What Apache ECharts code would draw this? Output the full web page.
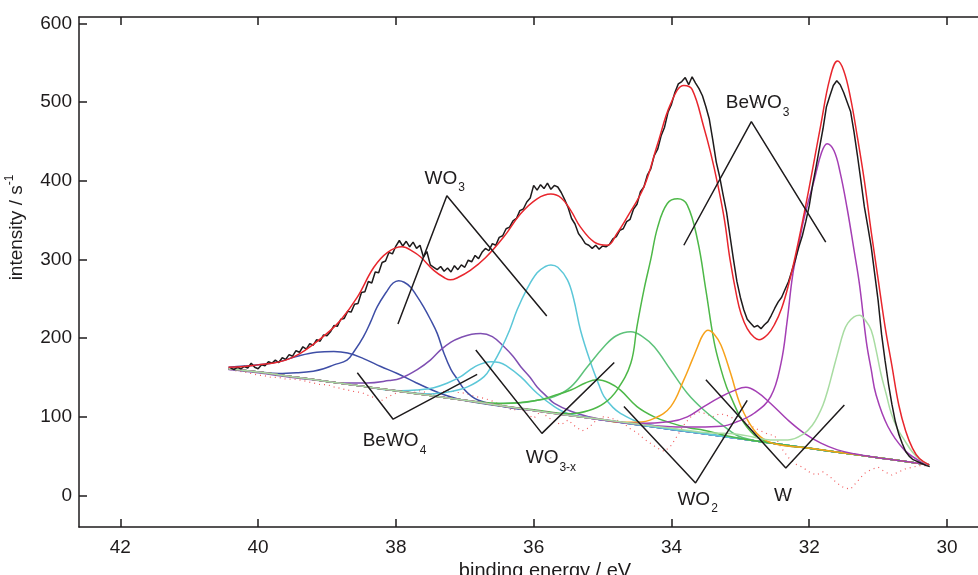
<!DOCTYPE html>
<html>
<head>
<meta charset="utf-8">
<script src="https://cdn.jsdelivr.net/npm/echarts@6/dist/echarts.min.js"></script>
<style>
html,body{margin:0;padding:0;background:#fff;}
#chart{width:978px;height:575px;}
</style>
</head>
<body>
<div id="chart"></div>
<script>
// ---------- data (binding energy eV, intensity s^-1) ----------
const energyTicks = [30, 32, 34, 36, 38, 40, 42];
const intensityTicks = [0, 100, 200, 300, 400, 500, 600];

const measured = [
[40.40,162],[40.35,160],[40.30,163],[40.25,161],[40.20,164],[40.15,162],[40.10,168],[40.05,163],[40.00,161],[39.95,166],[39.90,165],[39.85,170],[39.80,168],[39.75,172],[39.70,169],[39.65,175],[39.60,173],[39.55,179],[39.50,177],[39.45,184],[39.40,182],[39.35,189],[39.30,186],[39.25,193],[39.20,191],[39.15,198],[39.10,196],[39.05,204],[39.00,203],
[38.95,208],[38.90,216],[38.85,215],[38.80,224],[38.75,225],[38.70,234],[38.65,233],[38.60,243],[38.55,244],[38.50,258],[38.45,259],[38.40,272],[38.35,270],[38.30,284],[38.25,283],[38.20,296],[38.15,298],[38.10,309],[38.05,307],[38.00,317],
[37.95,324],[37.90,317],[37.85,323],[37.80,316],[37.75,322],[37.70,314],[37.65,318],[37.60,303],[37.55,310],[37.50,293],[37.45,290],[37.40,287],[37.35,291],[37.30,285],[37.25,289],[37.20,284],[37.15,292],[37.10,287],[37.05,293],[37.00,290],
[36.95,299],[36.90,297],[36.85,305],[36.80,301],[36.75,309],[36.70,314],[36.65,311],[36.60,320],[36.55,318],[36.50,328],[36.45,330],[36.40,339],[36.35,341],[36.30,349],[36.25,352],[36.20,362],[36.15,364],[36.10,373],[36.05,378],[36.00,394],
[35.95,388],[35.90,395],[35.85,390],[35.80,397],[35.75,389],[35.70,394],[35.65,392],[35.60,385],[35.55,376],[35.50,366],[35.45,352],[35.40,345],[35.35,333],[35.30,327],[35.25,320],[35.20,318],[35.15,314],[35.10,318],[35.05,313],[35.00,317],
[34.95,316],[34.90,319],[34.85,326],[34.80,329],[34.75,337],[34.70,339],[34.65,348],[34.60,351],[34.55,364],[34.50,370],[34.45,386],[34.40,392],[34.35,407],[34.30,415],[34.25,432],[34.20,440],[34.15,457],[34.10,468],[34.05,487],[34.00,497],
[33.95,512],[33.90,523],[33.85,526],[33.80,531],[33.75,522],[33.70,532],[33.65,524],[33.60,517],[33.55,508],[33.50,494],[33.45,478],[33.40,452],[33.35,424],[33.30,405],[33.25,382],[33.20,360],[33.15,330],[33.10,300],[33.05,272],[33.00,252],
[32.95,236],[32.90,224],[32.85,219],[32.80,214],[32.75,216],[32.70,212],[32.65,217],[32.60,221],[32.55,229],[32.50,238],[32.45,246],[32.40,252],[32.35,262],[32.30,272],[32.25,286],[32.20,300],[32.15,316],[32.10,330],[32.05,348],[32.00,368],
[31.95,395],[31.90,418],[31.85,442],[31.80,466],[31.75,494],[31.70,508],[31.65,521],[31.60,527],[31.55,522],[31.50,512],[31.45,500],[31.40,488],[31.35,462],[31.30,432],[31.25,400],[31.20,367],[31.15,342],[31.10,316],[31.05,282],[31.00,248],
[30.95,205],[30.90,172],[30.85,142],[30.80,116],[30.75,94],[30.70,78],[30.65,66],[30.60,56],[30.55,50],[30.50,46],[30.45,44],[30.40,42],[30.35,40],[30.30,38],[30.25,37]
];

const fitEnvelope = [
[40.43,163],[40.2,164],[40.0,166],[39.8,168],[39.6,172],[39.4,180],[39.2,192],[39.0,206],[38.8,223],[38.56,252],[38.32,290],[38.12,309],[37.91,316],[37.75,310],[37.64,303],[37.45,286],[37.3,277],[37.21,274],[37.1,277],[36.92,286],[36.7,302],[36.43,329],[36.19,358],[35.95,377],[35.75,383],[35.6,378],[35.46,362],[35.32,341],[35.12,322],[34.93,318],[34.79,333],[34.64,354],[34.4,392],[34.2,447],[34.01,498],[33.82,521],[33.7,516],[33.53,468],[33.43,435],[33.33,396],[33.23,350],[33.15,300],[33.05,252],[32.99,231],[32.9,212],[32.8,201],[32.73,198],[32.6,205],[32.5,218],[32.4,238],[32.3,268],[32.2,305],[32.07,360],[31.95,415],[31.83,472],[31.7,530],[31.59,552],[31.5,540],[31.4,505],[31.3,455],[31.2,400],[31.1,335],[31.0,275],[30.9,215],[30.8,165],[30.7,115],[30.6,82],[30.5,60],[30.4,47],[30.26,39]
];

const beWO4Broad = [[40.43,163],[40.0,166],[39.7,170],[39.43,177],[39.15,182],[38.9,183],[38.7,181],[38.47,174],[38.22,164],[37.98,155],[37.7,143],[37.5,135],[37.3,128],[37.11,123],[36.9,119],[36.6,115],[36.0,108],[35.5,102],[35,96],[34.5,90],[34,84],[33.5,78],[33,72],[32.5,66],[32,60],[31.5,54],[31,48],[30.5,42],[30.26,39]];
const beWO4Main = [[40.43,161],[40.0,157],[39.7,155],[39.43,156],[39.2,158],[39.05,161],[38.9,166],[38.71,172],[38.6,184],[38.47,202],[38.37,220],[38.27,240],[38.12,261],[38.04,270],[37.96,273],[37.88,271],[37.79,265],[37.7,254],[37.6,240],[37.5,224],[37.4,206],[37.3,180],[37.2,160],[37.11,148],[37.01,135],[36.9,126],[36.8,121],[36.6,116],[36.3,111],[36,108],[35.5,102],[35,96],[34.5,90],[34,84],[33.5,78],[33,72],[32.5,66],[32,60],[31.5,54],[31,48],[30.5,42],[30.26,39]];
const wo3A = [[40.43,160],[40,156],[39.5,150],[39,145],[38.8,143],[38.42,143],[38.1,146],[37.93,149],[37.69,160],[37.5,172],[37.35,185],[37.2,195],[37.05,201],[36.9,205],[36.77,206],[36.6,202],[36.43,189],[36.3,177],[36.19,164],[36.05,150],[35.95,138],[35.8,125],[35.7,117],[35.46,107],[35.2,100],[35,96.5],[34.5,90],[34,84],[33.5,78],[33,72],[32.5,66],[32,60],[31.5,54],[31,48],[30.5,42],[30.26,39]];
const wo3xA = [[40.43,161],[40,157],[39.5,151],[39,145],[38.5,139],[38.2,135],[37.93,133],[37.7,134],[37.45,137],[37.25,143],[37.06,151],[36.92,160],[36.8,166],[36.62,170],[36.5,169],[36.4,165],[36.19,151],[35.95,130],[35.7,113],[35.5,104],[35.2,99],[35,96],[34.5,90],[34,84],[33.5,78],[33,72],[32.5,66],[32,60],[31.5,54],[31,48],[30.5,42],[30.26,39]];
const wo3B = [[40.43,161],[40,157],[39.5,151],[39,145],[38.5,139],[38,133],[37.7,130],[37.5,129],[37.21,132],[36.96,138],[36.72,151],[36.6,166],[36.48,185],[36.35,210],[36.24,236],[36.1,262],[35.95,283],[35.83,291],[35.75,293],[35.65,290],[35.51,274],[35.42,250],[35.32,210],[35.17,168],[35.05,140],[34.98,126],[34.85,112],[34.74,104.5],[34.5,94],[34.2,88],[34,85],[33.5,78.5],[33,72],[32.5,66],[32,60],[31.5,54],[31,48],[30.5,42],[30.26,39]];
const wo3xB = [[40.43,161],[40,157],[39.5,151],[39,145],[38.5,139],[38,133],[37.5,127],[37.0,121],[36.67,117],[36.19,118],[35.95,121],[35.7,125.6],[35.46,138],[35.22,163.6],[34.98,189],[34.8,203],[34.59,208],[34.42,202],[34.25,189],[34.01,159.5],[33.77,130],[33.53,108.7],[33.23,87.5],[33.04,76],[32.8,70],[32.5,66],[32,60],[31.5,54],[31,48],[30.5,42],[30.26,39]];
const wo2A = [[40.43,161],[40,157],[39.5,151],[39,145],[38.5,139],[38,133],[37.5,127],[37,121],[36.8,119],[36.43,117],[35.95,121],[35.7,127],[35.46,134],[35.25,143],[35.08,147],[34.9,143],[34.74,134],[34.5,113],[34.25,100],[34.0,92],[33.75,86],[33.53,83],[33.2,76],[33,72.5],[32.5,66],[32,60],[31.5,54],[31,48],[30.5,42],[30.26,39]];
const beWO3A = [[40.43,161],[40,157],[39.5,151],[39,145],[38.5,139],[38,133],[37.5,127],[37,121],[36.5,114.5],[36,109],[35.46,104],[35.2,108],[34.98,117],[34.79,134],[34.59,168],[34.5,215],[34.4,261],[34.3,300],[34.2,341],[34.06,371],[33.91,377],[33.77,369],[33.62,324],[33.5,261],[33.38,195],[33.28,160],[33.2,138],[33.14,126],[32.99,98],[32.8,77],[32.6,68],[32.3,63],[32,60],[31.5,54],[31,48],[30.5,42],[30.26,39]];
const wo2B = [[40.43,161],[40,157],[39.5,151],[39,145],[38.5,139],[38,133],[37.5,127],[37,121],[36.5,114.5],[36,108],[35.5,102],[35,96.5],[34.75,93],[34.5,93],[34.25,98],[34.01,113],[33.82,147],[33.7,172],[33.62,189],[33.55,203],[33.47,210],[33.38,205],[33.28,191],[33.14,155],[32.99,113],[32.8,83],[32.61,69],[32.4,64],[32,60],[31.5,54],[31,48],[30.5,42],[30.26,39]];
const wA = [[40.43,161],[40,157],[39.5,151],[39,145],[38.5,139],[38,133],[37.5,127],[37,121],[36.5,114.5],[36,108],[35.5,102],[35,96.5],[34.5,91.5],[34.01,94],[33.77,100],[33.53,113],[33.28,125.6],[33.1,133],[32.92,137.5],[32.75,131],[32.56,117],[32.31,96],[32.07,79],[31.83,66.5],[31.59,58],[31.35,53],[31,48],[30.5,42],[30.26,39]];
const beWO3B = [[40.43,161],[40,157],[39.5,151],[39,145],[38.5,139],[38,133],[37.5,127],[37,121],[36.5,114.5],[36,108],[35.5,102],[35,96],[34.5,90.5],[34.01,87.5],[33.6,87],[33.28,88],[33.04,94],[32.8,104.5],[32.56,125.6],[32.41,168],[32.32,222],[32.24,280],[32.15,320],[32.07,354],[31.93,400],[31.82,436],[31.74,447],[31.64,438],[31.55,410],[31.45,365],[31.35,312],[31.27,268],[31.17,195],[31.1,160],[31.03,128],[30.86,88],[30.62,58],[30.38,43],[30.26,39]];
const wB = [[40.43,161],[40,157],[39.5,151],[39,145],[38.5,139],[38,133],[37.5,127],[37,121],[36.5,114.5],[36,108],[35.5,102],[35,96.5],[34,85.5],[33.5,80],[33.04,78],[32.8,74],[32.56,70.7],[32.31,70.7],[32.07,79],[31.95,90],[31.88,100],[31.8,115],[31.73,134],[31.66,157],[31.59,180],[31.5,208],[31.44,219],[31.35,227],[31.27,229],[31.18,222],[31.1,210],[31.03,185],[30.96,155],[30.88,128],[30.81,104.5],[30.72,85],[30.62,70.7],[30.5,55],[30.38,45],[30.26,39]];

const residual = [[40.4,160],[40.3,158],[40.2,157],[40.1,155],[40.0,153],[39.9,152],[39.8,150],[39.7,150],[39.6,148],[39.5,148],[39.4,147],[39.3,145],[39.2,143],[39.1,141],[39.0,141],[38.9,138],[38.8,136],[38.7,134],[38.6,132],[38.5,131],[38.4,127],[38.3,124],[38.2,121],[38.1,126],[38.0,130],[37.9,132],[37.8,131],[37.7,134],[37.6,132],[37.5,128],[37.4,130],[37.3,132],[37.2,133],[37.1,131],[37.0,130],[36.9,127],[36.8,125],[36.7,123],[36.6,120],[36.5,116],[36.4,112],[36.3,108],[36.2,112],[36.1,104],[36.0,98],[35.9,107],[35.8,100],[35.7,94],[35.6,90],[35.5,96],[35.4,88],[35.3,82],[35.2,86],[35.1,95],[35.0,100],[34.9,99],[34.8,96],[34.7,92],[34.6,85],[34.5,80],[34.4,72],[34.3,66],[34.2,60],[34.1,56],[34.0,64],[33.9,78],[33.8,92],[33.7,102],[33.6,106],[33.5,104],[33.4,100],[33.3,104],[33.2,102],[33.1,98],[33.0,100],[32.9,92],[32.8,86],[32.7,82],[32.6,78],[32.5,76],[32.4,60],[32.3,48],[32.2,40],[32.1,36],[32.0,30],[31.9,26],[31.8,30],[31.7,24],[31.6,16],[31.5,10],[31.4,8],[31.3,18],[31.2,28],[31.1,33],[31.0,36],[30.9,30],[30.8,26],[30.7,30],[30.6,34],[30.5,36],[30.4,38],[30.3,38]];

// annotation pointer lines and labels [energy, intensity]
const ptrWO3   = [[37.97,218],[37.26,381],[35.81,228]];
const ptrBeWO3 = [[33.82,318],[32.84,475],[31.76,322]];
const ptrBeWO4 = [[38.56,156],[38.04,97],[36.82,154]];
const ptrWO3x  = [[36.84,185],[35.88,79],[34.83,169]];
const ptrWO2   = [[34.69,113],[33.65,16],[32.9,121]];
const ptrW     = [[33.5,147],[32.34,35],[31.49,115]];
const labelPoints = [
  [37.29,403,'WO','3'],
  [32.75,499,'BeWO','3'],
  [38.02,69,'BeWO','4'],
  [35.75,48,'WO','3-x'],
  [33.62,-5,'WO','2'],
  [32.38,0,'W','']
];

// ---------- chart ----------
const FONT = 'Liberation Sans, Arial, Helvetica, sans-serif';
const INK = '#1E1B1C';
const chart = echarts.init(document.getElementById('chart'), null, {renderer:'canvas'});

function comp(name, data, color){
  return {name, type:'line', data, showSymbol:false, smooth:0.4, z:2,
    lineStyle:{color, width:1.5}, silent:true};
}
function ptr(data){
  return {type:'line', data, showSymbol:false, smooth:false, z:5,
    lineStyle:{color:INK, width:1.5}, silent:true};
}

const axisLineStyle = {color:INK, width:1.5};
const option = {
  animation:false,
  backgroundColor:'#ffffff',
  textStyle:{fontFamily:FONT},
  grid:{left:79, right:0, top:17, bottom:48, containLabel:false, outerBoundsMode:'none'},
  xAxis:[{
    type:'value', inverse:true, min:29.55, max:42.6, position:'bottom',
    axisLine:{show:true, onZero:false, lineStyle:axisLineStyle},
    axisTick:{show:true, inside:true, length:8, customValues:energyTicks, lineStyle:axisLineStyle},
    axisLabel:{customValues:energyTicks, margin:11, fontSize:19, color:INK, fontFamily:FONT},
    splitLine:{show:false},
    name:'binding energy / eV', nameLocation:'middle', nameGap:29,
    nameTextStyle:{fontSize:20, color:INK, fontFamily:FONT, padding:[0,0,0,33]}
  },{
    type:'value', inverse:true, min:29.55, max:42.6, position:'top',
    axisLine:{show:true, onZero:false, lineStyle:axisLineStyle},
    axisTick:{show:true, inside:true, length:8, customValues:energyTicks, lineStyle:axisLineStyle},
    axisLabel:{show:false}, splitLine:{show:false}
  }],
  yAxis:[{
    type:'value', min:-40, max:608,
    axisLine:{show:true, onZero:false, lineStyle:axisLineStyle},
    axisTick:{show:true, inside:true, length:8, customValues:intensityTicks, lineStyle:axisLineStyle},
    axisLabel:{customValues:intensityTicks, margin:7, fontSize:19, color:INK, fontFamily:FONT},
    splitLine:{show:false},
    name:'intensity / s{sup|-1}', nameLocation:'middle', nameGap:50,
    nameTextStyle:{fontSize:19, color:INK, fontFamily:FONT, padding:[0,0,0,89],
      rich:{sup:{fontSize:12, color:INK, fontFamily:FONT, padding:[0,0,13,0]}}}
  }],
  series:[
    {type:'line', data:residual, showSymbol:false, z:1, silent:true,
      lineStyle:{color:'#F0474A', width:1.2, type:[1,4], opacity:0.9}},
    comp('BeWO4 broad', beWO4Broad, '#3E4EA6'),
    comp('BeWO4', beWO4Main, '#3E4EA6'),
    comp('WO3 a', wo3A, '#7F4FB2'),
    comp('WO3-x a', wo3xA, '#5CC7D8'),
    comp('WO3 b', wo3B, '#5CC7D8'),
    comp('WO3-x b', wo3xB, '#5DC27A'),
    comp('WO2 a', wo2A, '#4DB848'),
    comp('BeWO3 a', beWO3A, '#4DB848'),
    comp('WO2 b', wo2B, '#F7A21B'),
    comp('W a', wA, '#A43FB4'),
    comp('BeWO3 b', beWO3B, '#A43FB4'),
    comp('W b', wB, '#A8DCA2'),
    {name:'measured', type:'line', data:measured, showSymbol:false, smooth:false, z:3, silent:true,
      lineStyle:{color:INK, width:1.5}},
    {name:'fit', type:'line', data:fitEnvelope, showSymbol:false, smooth:0.4, z:4, silent:true,
      lineStyle:{color:'#E8262D', width:1.5}},
    ptr(ptrWO3), ptr(ptrBeWO3), ptr(ptrBeWO4), ptr(ptrWO3x), ptr(ptrWO2), ptr(ptrW),
    {type:'scatter', z:6, silent:true, symbolSize:1, itemStyle:{color:INK, opacity:1},
      data:labelPoints.map(p => ({value:[p[0], p[1]], main:p[2], sub:p[3]})),
      label:{show:true, position:'inside', color:INK, opacity:1, textBorderWidth:0, textBorderColor:'transparent',
        fontFamily:FONT, fontSize:19,
        formatter: (pr) => pr.data.sub ? '{m|' + pr.data.main + '}{s|' + pr.data.sub + '}' : '{m|' + pr.data.main + '}',
        rich:{
          m:{fontSize:19, color:INK, fontFamily:FONT, textBorderWidth:0},
          s:{fontSize:12, color:INK, fontFamily:FONT, textBorderWidth:0, padding:[19,0,0,1]}
        }}
    }
  ]
};
chart.setOption(option);
</script>
</body>
</html>
